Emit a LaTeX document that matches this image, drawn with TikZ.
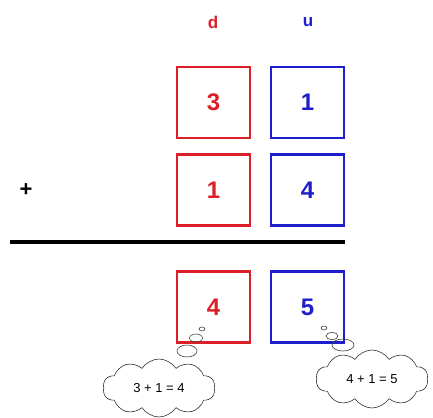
\documentclass[tikz,border=0pt]{standalone}
\usepackage{fontspec}
\setmainfont{Liberation Sans}
\usetikzlibrary{shapes.symbols,shapes.geometric}
\definecolor{myred}{RGB}{220,30,40}
\definecolor{myblue}{RGB}{30,30,205}
\begin{document}
\begin{tikzpicture}[x=1pt,y=-1pt]
\tikzset{
  redbox/.style={draw=myred,line width=2.2pt,minimum width=73pt,minimum height=71pt,inner sep=0pt,text=myred,font=\bfseries\fontsize{24}{24}\selectfont},
  bluebox/.style={draw=myblue,line width=2.2pt,minimum width=73pt,minimum height=71pt,inner sep=0pt,text=myblue,font=\bfseries\fontsize{24}{24}\selectfont},
  lab/.style={font=\bfseries\fontsize{17}{17}\selectfont},
  thought/.style={cloud,cloud puffs=10,cloud puff arc=115,aspect=2,draw=black!80,line width=0.6pt,minimum width=112pt,minimum height=58pt,inner sep=0pt,font=\fontsize{13}{13}\selectfont},
  bubble/.style={ellipse,draw=black!75,line width=0.6pt,inner sep=0pt}
}
\useasboundingbox (0,0) rectangle (433,417);
\node[lab,text=myred] (d) at (213,22) {d};
\node[lab,text=myblue] (u) at (308,22) {u};
\node[redbox] (a1) at (213.5,102.5) {3};
\node[bluebox] (b1) at (307.5,102.5) {1};
\node[redbox] (a2) at (213.5,190) {1};
\node[bluebox] (b2) at (307.5,190) {4};
\node[font=\bfseries\fontsize{22}{22}\selectfont] (plus) at (26,190) {+};
\coordinate (l1) at (10,242);
\coordinate (l2) at (345,242);
\draw[line width=3.4pt] (l1) -- (l2);
\node[redbox] (a3) at (213.5,307) {4};
\node[bluebox] (b3) at (307.5,307) {5};
% left thought
\node[bubble,minimum width=6pt,minimum height=4pt] (s1) at (202,329) {};
\node[bubble,minimum width=13pt,minimum height=8pt] (s2) at (196,338) {};
\node[bubble,minimum width=20pt,minimum height=12pt] (s3) at (187,351) {};
\node[thought] (c1) at (159,388) {3 + 1 = 4};
% right thought
\node[bubble,minimum width=6pt,minimum height=4pt] (r1) at (324,328) {};
\node[bubble,minimum width=12pt,minimum height=7pt] (r2) at (332,336) {};
\node[bubble,minimum width=22pt,minimum height=12pt] (r3) at (343,345) {};
\node[thought] (c2) at (372,379) {4 + 1 = 5};
\end{tikzpicture}
\end{document}
